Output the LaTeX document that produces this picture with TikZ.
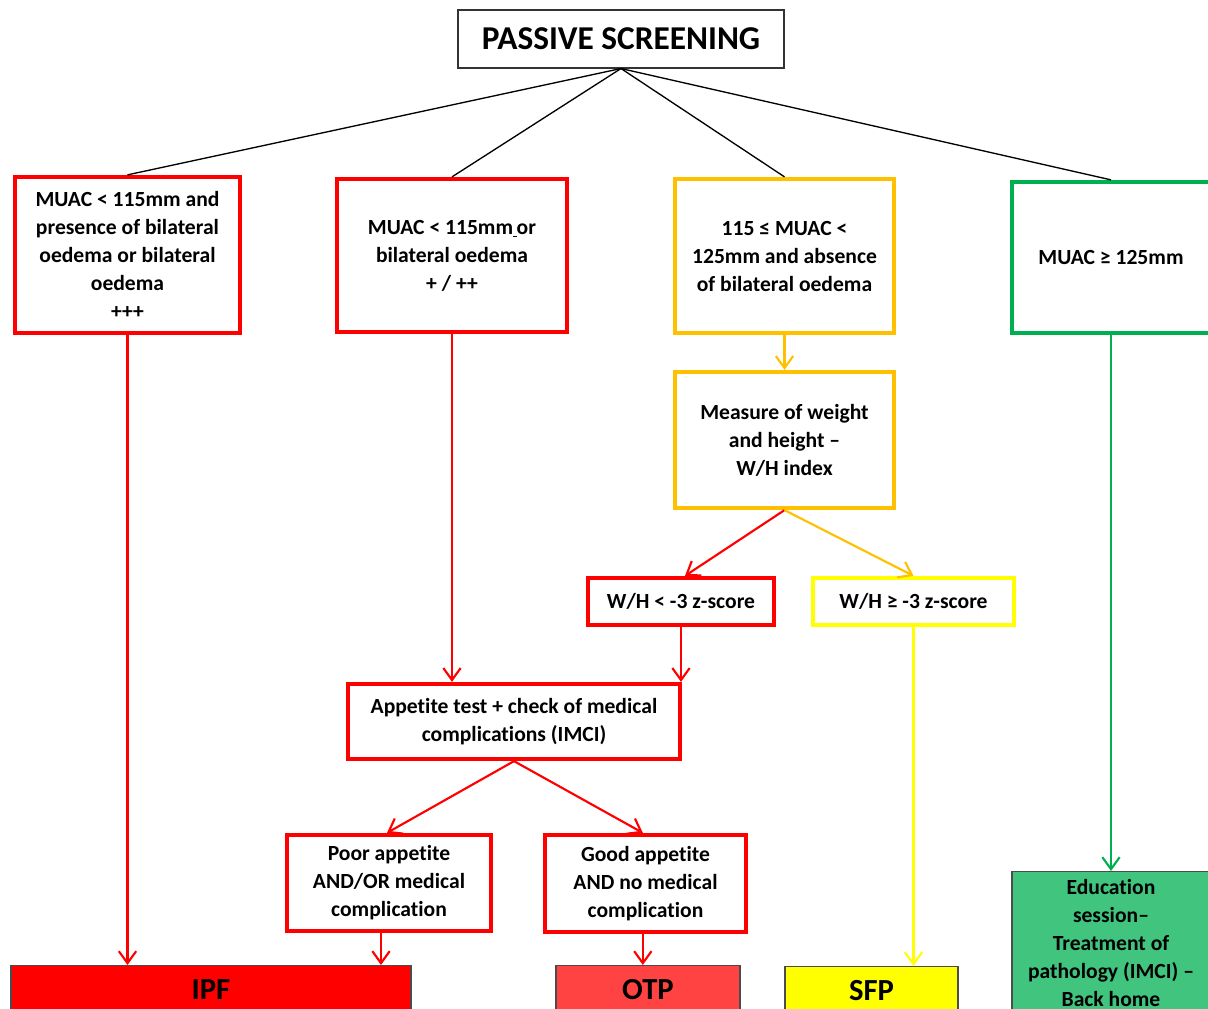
\documentclass[tikz,border=0pt]{standalone}
\usepackage{fontspec}
\setmainfont{Carlito}[Ligatures=NoCommon]
\usetikzlibrary{arrows.meta}
\definecolor{cRed}{HTML}{FF0000}
\definecolor{cOrange}{HTML}{FFC000}
\definecolor{cGreen}{HTML}{00B050}
\definecolor{cYellow}{HTML}{FFFF00}
\definecolor{cOtp}{HTML}{FF4343}
\definecolor{cEdu}{HTML}{40C47E}
\def\u{0.75pt}
\tikzset{
  every node/.style={font=\bfseries\fontsize{16.2}{21}\selectfont, align=center, inner sep=0pt},
  framebox/.style={draw, line width=3.2pt, fill=white},
  redbox/.style={framebox, draw=cRed},
  orangebox/.style={framebox, draw=cOrange},
  greenbox/.style={framebox, draw=cGreen},
  yellowbox/.style={framebox, draw=cYellow},
  endbox/.style={draw=black!70, line width=0.8pt, anchor=north, text height=34*\u, text depth=30*\u,
                 font=\bfseries\fontsize{23}{28}\selectfont},
  link/.style={line width=1pt, black},
  flow/.style={line width=1.6pt, -{Straight Barb[length=9pt, width=13pt, line width=1.6pt]}},
}
\begin{document}
\begin{tikzpicture}[x=0.75pt, y=-0.75pt]
\useasboundingbox (0,0) rectangle (1208,1009);

% top of the flow
\node[draw=black!80, line width=0.8pt, minimum width=326*\u, minimum height=58*\u,
      font=\bfseries\fontsize{25}{30}\selectfont] (top) at (621,39) {PASSIVE SCREENING};

% MUAC classes
\node[redbox, minimum width=225*\u, minimum height=156*\u] (b1) at (127.5,255)
  {MUAC < 115mm and\\presence of bilateral\\oedema or bilateral\\oedema\\+++};
\node[redbox, minimum width=230*\u, minimum height=153*\u] (b2) at (452,255.5)
  {MUAC < 115mm\underline{\,}or\\bilateral oedema\\+ / ++};
\node[orangebox, minimum width=219*\u, minimum height=154*\u] (b3) at (784.5,256)
  {115 ≤ MUAC <\\125mm and absence\\of bilateral oedema};
\node[greenbox, minimum width=198*\u, minimum height=151*\u] (b4) at (1111,257.5)
  {MUAC ≥ 125mm};

% anthropometry branch
\node[orangebox, minimum width=219*\u, minimum height=136*\u] (mes) at (784.5,440)
  {Measure of weight\\and height –\\W/H index};
\node[redbox, minimum width=186*\u, minimum height=47*\u] (wlt) at (681,601.5)
  {W/H < -3 z-score};
\node[yellowbox, minimum width=201*\u, minimum height=47*\u] (wge) at (913.5,601.5)
  {W/H ≥ -3 z-score};

% appetite test
\node[redbox, minimum width=332*\u, minimum height=75*\u] (app) at (514,721.5)
  {Appetite test + check of medical\\complications (IMCI)};
\node[redbox, minimum width=204*\u, minimum height=96*\u] (poor) at (389,883)
  {Poor appetite\\AND/OR medical\\complication};
\node[redbox, minimum width=201*\u, minimum height=97*\u] (good) at (645.5,883.5)
  {Good appetite\\AND no medical\\complication};

% programmes
\node[endbox, fill=cRed, minimum width=400*\u] (ipf) at (211,965) {IPF};
\node[endbox, fill=cOtp, minimum width=184*\u] (otp) at (648,965) {OTP};
\node[endbox, fill=cYellow, minimum width=173*\u] (sfp) at (871.5,966) {SFP};
\node[draw=black!70, line width=0.8pt, fill=cEdu, minimum width=198*\u, minimum height=160*\u,
      anchor=north] (edu) at (1111,871) {};
\node[anchor=north] (edutext) at (1111,878.7)
  {Education\\session–\\Treatment of\\pathology (IMCI) –\\Back home};

% links from the screening box
\foreach \n in {b1,b2,b3,b4}
  \draw[link] (top.south) -- (\n.north);

% flow arrows
\draw[flow, cRed] (b1.south) -- (b1.south |- ipf.north);
\draw[flow, cRed] (b2.south) -- (b2.south |- app.north);
\draw[flow, cOrange] (b3.south) -- (mes.north);
\draw[flow, cRed] (mes.south) -- ([xshift=3pt]wlt.north);
\draw[flow, cOrange] (mes.south) -- (wge.north);
\draw[flow, cRed] (wlt.south) -- (wlt.south |- app.north);
\draw[flow, cRed] (app.south) -- ([xshift=-1.5pt]poor.north);
\draw[flow, cRed] (app.south) -- ([xshift=-2pt]good.north);
\draw[flow, cRed] ([xshift=-6pt]poor.south) -- ([xshift=-6pt]poor.south |- ipf.north);
\draw[flow, cRed] ([xshift=-2pt]good.south) -- ([xshift=-2pt]good.south |- otp.north);
\draw[flow, cYellow] (wge.south) -- (wge.south |- sfp.north);
\draw[flow, cGreen] (b4.south) -- (edu.north);
\end{tikzpicture}
\end{document}
